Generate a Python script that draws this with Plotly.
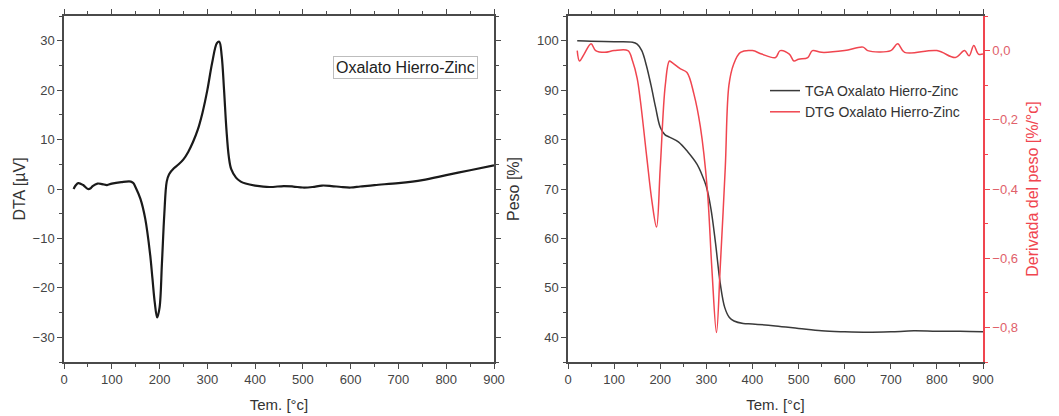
import plotly.graph_objects as go

# DTA curve (left panel)
dta_temp = [20, 25, 30, 40, 50, 55, 60, 70, 80, 90, 100, 120, 140, 145, 150, 160, 170, 180,
            185, 190, 195, 200, 205, 210, 215, 220, 230, 240, 250, 260, 270, 280, 290, 300,
            310, 320, 325, 330, 335, 340, 345, 350, 360, 370, 380, 400, 430, 460, 480, 500,
            520, 540, 560, 580, 600, 620, 650, 700, 750, 800, 850, 900]
dta_uv = [0.0, 0.8, 1.2, 0.8, 0.0, 0.1, 0.6, 1.1, 1.0, 0.8, 1.1, 1.4, 1.5, 1.2, 0.3, -2.0, -6.0, -13.0,
          -18.0, -23.0, -26.0, -24.0, -15.0, -5.0, 1.5, 3.0, 4.2, 5.0, 6.0, 7.5, 9.5, 12.0, 15.5, 20.0,
          25.5, 29.5, 29.8, 27.0, 20.0, 12.0, 6.5, 4.0, 2.3, 1.5, 1.1, 0.7, 0.4, 0.6, 0.5, 0.3,
          0.4, 0.7, 0.6, 0.4, 0.3, 0.5, 0.8, 1.2, 1.8, 2.8, 3.8, 4.8]

# TGA curve (right panel, left axis)
tga_temp = [20, 50, 100, 140, 150, 160, 170, 180, 190, 200, 210, 220, 240, 260, 280, 290, 300,
            310, 320, 330, 340, 350, 360, 380, 400, 450, 500, 550, 600, 650, 700, 750, 800, 850, 900]
tga_peso = [100.0, 99.9, 99.8, 99.7, 99.3, 98.0, 95.0, 91.0, 86.5, 82.5, 81.0, 80.5, 79.5, 77.5, 75.0,
            73.0, 70.5, 66.0, 59.0, 51.0, 46.0, 44.0, 43.3, 42.8, 42.7, 42.3, 41.8, 41.3, 41.1, 41.0,
            41.1, 41.3, 41.2, 41.2, 41.1]

# DTG curve (right panel, right axis)
dtg_temp = [20, 25, 35, 50, 60, 80, 100, 130, 140, 150, 157, 171, 182, 192, 200, 211, 220, 226,
            244, 258, 273, 287, 302, 312, 322, 330, 341, 349, 359, 374, 400, 420, 450, 460, 480,
            490, 500, 520, 530, 550, 600, 640, 650, 700, 715, 730, 800, 840, 860, 870, 880, 890, 900]
dtg_deriv = [0.0, -0.03, -0.01, 0.02, 0.0, -0.005, 0.0, 0.0, -0.03, -0.08, -0.145, -0.31, -0.435, -0.51,
             -0.34, -0.1, -0.03, -0.035, -0.053, -0.063, -0.125, -0.22, -0.40, -0.63, -0.815, -0.63,
             -0.34, -0.1, -0.04, -0.005, 0.0, -0.01, -0.02, 0.0, -0.01, -0.03, -0.025, -0.02, 0.0,
             -0.005, 0.0, 0.01, 0.0, 0.0, 0.02, -0.005, 0.0, -0.02, 0.0, -0.015, 0.015, -0.01, -0.01]

FONT = "Liberation Sans, Arial, sans-serif"
AXC = "#4a4a4a"
RED = "#f0454f"

# page body has an 8px margin, so the figure is drawn 8px smaller and offset
W, H = 1051, 408
PH = 346  # plot area height

fig = go.Figure()
fig.add_trace(go.Scatter(x=dta_temp, y=dta_uv, mode="lines", line=dict(color="#1a1a1a", width=2.2, shape="spline"),
                         xaxis="x", yaxis="y", showlegend=False))
fig.add_trace(go.Scatter(x=tga_temp, y=tga_peso, mode="lines", name="TGA Oxalato Hierro-Zinc",
                         line=dict(color="#3a3a3a", width=1.5, shape="spline"), xaxis="x2", yaxis="y2"))
fig.add_trace(go.Scatter(x=dtg_temp, y=dtg_deriv, mode="lines", name="DTG Oxalato Hierro-Zinc",
                         line=dict(color=RED, width=1.5, shape="spline"), xaxis="x2", yaxis="y3"))

common = dict(showline=True, linecolor=AXC, linewidth=1.5, showgrid=False, zeroline=False,
              ticks="outside", ticklen=5, tickwidth=1.2, tickcolor=AXC, automargin=False,
              tickfont=dict(family=FONT, size=13, color="#444"))

fig.update_layout(
    width=W, height=H,
    margin=dict(l=0, r=0, t=8, b=54),
    paper_bgcolor="white", plot_bgcolor="white",
    separators=",.",
    font=dict(family=FONT, color="#333"),
    xaxis=dict(domain=[56 / W, 486 / W], range=[0, 900], dtick=100, anchor="y", mirror="ticks",
               minor=dict(dtick=50, ticks="outside", ticklen=3, tickcolor=AXC),
               title=dict(text="Tem. [°c]", font=dict(size=15, color="#333"), standoff=13), **common),
    yaxis=dict(domain=[0, 1], range=[-35, 35], dtick=10, anchor="x", mirror="ticks",
               minor=dict(dtick=5, ticks="outside", ticklen=3, tickcolor=AXC),
               title=dict(text="DTA [µV]", font=dict(size=16, color="#333"), standoff=3), **common),
    xaxis2=dict(domain=[560 / W, 975 / W], range=[0, 900], dtick=100, anchor="y2", mirror="ticks",
                minor=dict(dtick=50, ticks="outside", ticklen=3, tickcolor=AXC),
                title=dict(text="Tem. [°c]", font=dict(size=15, color="#333"), standoff=13), **common),
    yaxis2=dict(domain=[0, 1], range=[35, 105], dtick=10, anchor="x2",
                minor=dict(dtick=5, ticks="outside", ticklen=3, tickcolor=AXC),
                title=dict(text="Peso [%]", font=dict(size=16, color="#333"), standoff=13), **common),
    yaxis3=dict(range=[-0.9, 0.1], dtick=0.2, tick0=0, tickformat=".1f", overlaying="y2", anchor="x2",
                side="right", showline=True, linecolor=RED, linewidth=1.5, showgrid=False, zeroline=False,
                ticks="outside", ticklen=5, tickcolor=RED, automargin=False,
                minor=dict(dtick=0.1, ticks="outside", ticklen=3, tickcolor=RED),
                tickfont=dict(family=FONT, size=13, color="#e0606a"),
                title=dict(text="Derivada del peso [%/°c]", font=dict(size=16, color=RED), standoff=10)),
    legend=dict(x=757 / W, y=1 - 59 / PH, xanchor="left", yanchor="top", bgcolor="rgba(0,0,0,0)",
                font=dict(family=FONT, size=14, color="#333"), itemwidth=30, tracegroupgap=0),
    annotations=[dict(text="Oxalato Hierro-Zinc", xref="paper", yref="paper",
                      x=397 / W, y=1 - 51 / PH, xanchor="center", yanchor="middle", showarrow=False,
                      font=dict(family=FONT, size=16, color="#222"), bordercolor="#bdbdbd",
                      borderwidth=1, borderpad=2, bgcolor="white")],
)

fig.write_html("out.html")
